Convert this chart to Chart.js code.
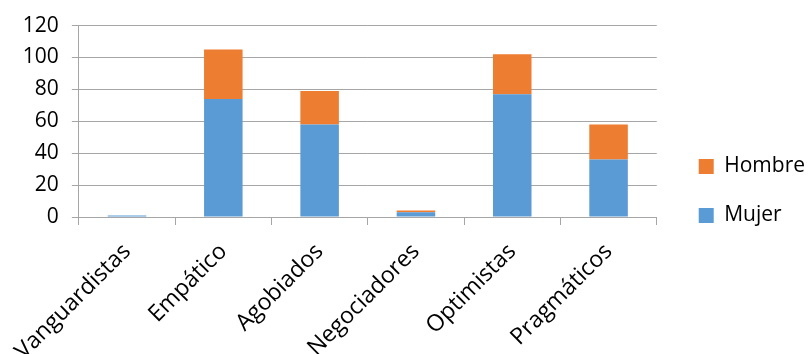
<!DOCTYPE html>
<html>
<head>
<meta charset="utf-8">
<script src="https://cdn.jsdelivr.net/npm/chart.js@4.4.1/dist/chart.umd.min.js"></script>
<style>
  html, body { margin: 0; padding: 0; background: #ffffff; }
  #wrap { width: 811px; height: 354px; }
</style>
</head>
<body>
<div id="wrap"><canvas id="c" width="811" height="354"></canvas></div>
<script>
const categories = ['Vanguardistas', 'Empático', 'Agobiados', 'Negociadores', 'Optimistas', 'Pragmáticos'];
const mujer = [1, 74, 58, 3, 77, 36];
const hombre = [0, 31, 21, 1, 25, 22];
const yTicks = [0, 20, 40, 60, 80, 100, 120];

const gridColor = '#a6a6a6';
const fontFamily = '"Open Sans", "Noto Sans", sans-serif';

// Leaves a wider gap between the plot and the legend keys.
const legendShift = {
  id: 'legendShift',
  beforeDraw(chart) {
    const lg = chart.legend;
    if (lg && !lg._shifted) {
      lg.left += 14; lg.right += 14;
      lg.top += 2; lg.bottom += 2;
      lg._shifted = true;
    }
  }
};

new Chart(document.getElementById('c'), {
  type: 'bar',
  data: {
    labels: categories,
    datasets: [
      { label: 'Mujer', data: mujer, backgroundColor: '#5b9bd5', barPercentage: 0.4, categoryPercentage: 1.0 },
      { label: 'Hombre', data: hombre, backgroundColor: '#ed7d31', barPercentage: 0.4, categoryPercentage: 1.0 }
    ]
  },
  plugins: [legendShift],
  options: {
    responsive: false,
    animation: false,
    devicePixelRatio: 1,
    layout: { padding: { top: 24, right: 10, bottom: 0, left: 0 } },
    plugins: {
      tooltip: { enabled: false },
      legend: {
        position: 'right',
        reverse: true,
        labels: {
          color: '#000000',
          font: { family: fontFamily, size: 21 },
          boxWidth: 15,
          boxHeight: 15,
          padding: 28
        }
      }
    },
    scales: {
      x: {
        stacked: true,
        grid: { display: true, drawOnChartArea: false, drawTicks: true, tickLength: 8, color: gridColor, offset: true },
        border: { display: true, color: gridColor, width: 1 },
        ticks: {
          color: '#000000',
          font: { family: fontFamily, size: 23 },
          minRotation: 45,
          maxRotation: 45,
          autoSkip: false,
          padding: 13
        },
        afterFit: (scale) => { scale.height = 137; }
      },
      y: {
        stacked: true,
        min: 0,
        max: 120,
        afterBuildTicks: (scale) => { scale.ticks = yTicks.map(v => ({ value: v })); },
        grid: { color: gridColor, drawTicks: true, tickLength: 7 },
        border: { display: true, color: gridColor, width: 1 },
        ticks: {
          color: '#000000',
          font: { family: fontFamily, size: 21 },
          padding: 13
        },
        afterFit: (scale) => { scale.width = 77; }
      }
    }
  }
});
</script>
</body>
</html>
